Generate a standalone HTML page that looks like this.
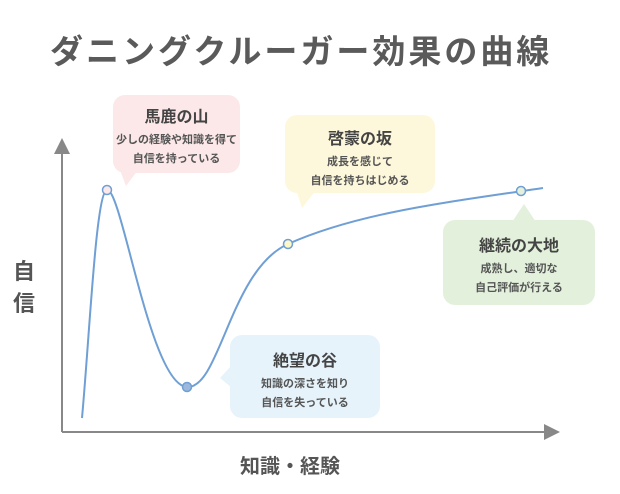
<!DOCTYPE html>
<html><head><meta charset="utf-8"><style>
html,body{margin:0;padding:0;background:#fff;}
body{width:620px;height:494px;position:relative;overflow:hidden;font-family:"Liberation Sans","Noto Sans CJK JP",sans-serif;color:#4a4a4a;}
.t{position:absolute;white-space:nowrap;font-weight:bold;}
.box{position:absolute;border-radius:12px;text-align:center;}
.box h3{margin:0;font-size:16px;font-weight:bold;color:#444;}
.box p{margin:4px 0 0;font-size:11px;line-height:19px;color:#555;font-weight:bold;}
</style></head><body>
<div class="t" style="left:50px;top:25px;font-size:33px;color:#5a5a5a;letter-spacing:3px;">ダニングクルーガー効果の曲線</div>
<svg width="620" height="494" style="position:absolute;left:0;top:0">
<defs><marker id="a" markerWidth="8" markerHeight="8" refX="4" refY="4" orient="auto"><path d="M0,0 L8,4 L0,8 z" fill="#888"/></marker></defs>
<line x1="62" y1="432" x2="62" y2="146" stroke="#888" stroke-width="2" marker-end="url(#a)"/>
<line x1="62" y1="432" x2="552" y2="432" stroke="#888" stroke-width="2" marker-end="url(#a)"/>
<path d="M120,170 L126,186 L138,170 z" fill="#fce8e8"/>
<path d="M296,190 L302,208 L316,190 z" fill="#fdf8dc"/>
<path d="M512,222 L524,204 L536,222 z" fill="#e3f1dc"/>
<path d="M232,365 L220,378 L232,388 z" fill="#e6f3fb"/>
</svg>
<div class="box" style="left:113px;top:95px;width:127px;height:78px;background:#fce8e8;"><h3 style="margin-top:8px">馬鹿の山</h3><p>少しの経験や知識を得て<br>自信を持っている</p></div>
<div class="box" style="left:285px;top:115px;width:150px;height:78px;background:#fdf8dc;"><h3 style="margin-top:10px">啓蒙の坂</h3><p>成長を感じて<br>自信を持ちはじめる</p></div>
<div class="box" style="left:443px;top:220px;width:152px;height:85px;background:#e3f1dc;"><h3 style="margin-top:12px">継続の大地</h3><p>成熟し、適切な<br>自己評価が行える</p></div>
<div class="box" style="left:230px;top:335px;width:150px;height:83px;background:#e6f3fb;"><h3 style="margin-top:12px">絶望の谷</h3><p>知識の深さを知り<br>自信を失っている</p></div>
<svg width="620" height="494" style="position:absolute;left:0;top:0">
<path d="M82,418 C90,330 96,192 107,190 C122,188 150,385 187,387 C220,389 230,270 288,244 C360,212 450,202 543,188" fill="none" stroke="#6f9fd4" stroke-width="2"/>
<circle cx="107" cy="190" r="4.5" fill="#fce8e8" stroke="#6f9fd4" stroke-width="1.5"/>
<circle cx="187" cy="387" r="4.5" fill="#9cb8dc" stroke="#6f9fd4" stroke-width="1.5"/>
<circle cx="288" cy="244" r="4.5" fill="#fdf8c8" stroke="#6f9fd4" stroke-width="1.5"/>
<circle cx="521" cy="191" r="4.5" fill="#e3f1dc" stroke="#6f9fd4" stroke-width="1.5"/>
</svg>
<div class="t" style="left:13px;top:256px;font-size:22px;line-height:32px;color:#555;">自<br>信</div>
<div class="t" style="left:240px;top:450px;font-size:20px;color:#555;">知識・経験</div>
</body></html>
